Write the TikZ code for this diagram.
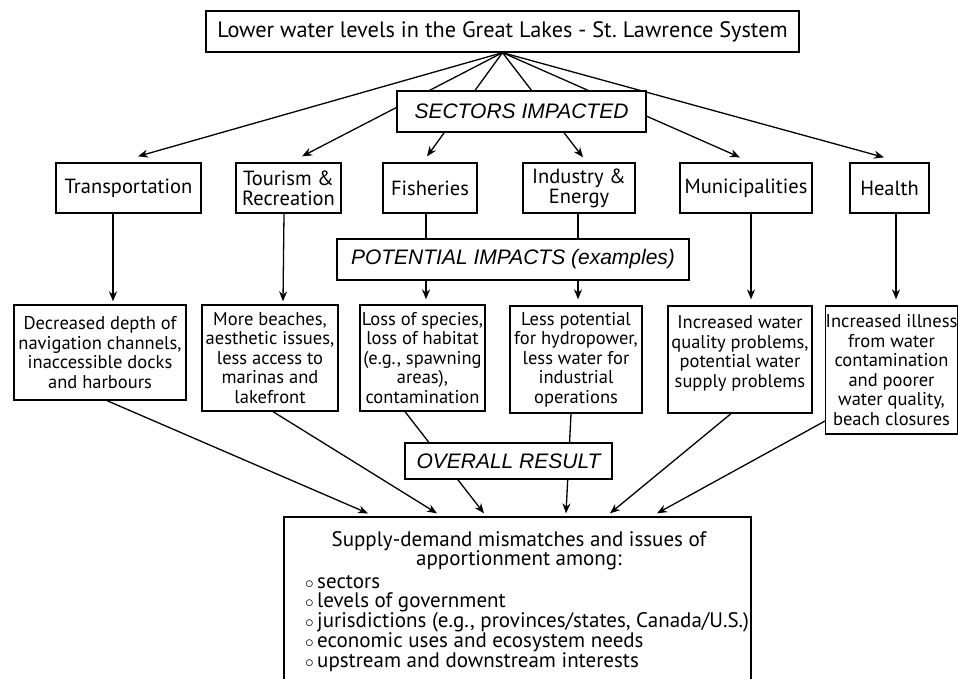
\documentclass[tikz,border=0pt]{standalone}
\usepackage{fontspec}
\setmainfont{PT Sans}
\newfontfamily\labfamily{Liberation Sans}
\usetikzlibrary{arrows.meta,calc}
\frenchspacing
\newcommand\titlesz{\fontsize{22.3}{24}\selectfont}
\newcommand\secsz{\fontsize{20.5}{20}\selectfont}
\newcommand\impsz{\fontsize{18.5}{19.5}\selectfont}
\newcommand\ressz{\fontsize{21}{19.7}\selectfont}
\newcommand\labsz{\labfamily\fontsize{21}{22}\selectfont\itshape}
\newcommand\bul{\makebox[12pt][l]{\fontsize{16}{16}\selectfont$\circ$}}
\begin{document}
\begin{tikzpicture}[x=1pt,y=-1pt,
  box/.style={draw,line width=1.3pt,inner sep=0pt,align=center,fill=white},
  lab/.style={draw,line width=1.3pt,inner sep=0pt,align=center,font=\labsz,fill=white},
  arr/.style={line width=1.3pt,-{Stealth[length=10pt,width=8pt]}},
  txt/.style={inner sep=0pt,font=\ressz}]
\clip (0,0) rectangle (958,679);
\fill[white] (0,0) rectangle (958,679);

% top
\node[box,font=\titlesz,minimum width=593,minimum height=41] (title) at (502.5,31.5) {Lower water levels in the Great Lakes - St. Lawrence System};

% sectors
\tikzset{sec/.style={box,font=\secsz,minimum height=50}}
\node[sec,minimum width=145] (trans) at (128.5,188) {Transportation};
\node[sec,minimum width=105] (tour) at (288.5,188) {Tourism \&\\Recreation};
\node[sec,minimum width=94] (fish) at (430,188) {Fisheries};
\node[sec,minimum width=112] (ind) at (579,188) {Industry \&\\Energy};
\node[sec,minimum width=132] (muni) at (746,188) {Municipalities};
\node[sec,minimum width=79] (health) at (889.5,188) {Health};

% impacts
\tikzset{imp/.style={box,font=\impsz}}
\node[imp,minimum width=172,minimum height=95] (dec) at (100,352.5) {Decreased depth of\\navigation channels,\\inaccessible docks\\and harbours};
\node[imp,minimum width=136,minimum height=106] (more) at (270,358) {More beaches,\\aesthetic issues,\\less access to\\marinas and\\lakefront};
\node[imp,minimum width=125,minimum height=106] (loss) at (422.5,358) {Loss of species,\\loss of habitat\\(e.g., spawning\\areas),\\contamination};
\node[imp,minimum width=132,minimum height=107] (less) at (576,359.5) {Less potential\\for hydropower,\\less water for\\industrial\\operations};
\node[imp,minimum width=144,minimum height=107] (water) at (740,359.5) {Increased water\\quality problems,\\potential water\\supply problems\rule[-16pt]{0pt}{16pt}};
\node[imp,minimum width=129,minimum height=128] (ill) at (891.5,370) {Increased illness\\from water\\contamination\\and poorer\\water quality,\\beach closures};

% result
\node[box,minimum width=467,minimum height=183] (res) at (517.5,608.5) {};
\node[txt,align=center,anchor=north] (reshead) at (519,531) {Supply-demand mismatches and issues of\\apportionment among:};
\node[txt,align=left,anchor=north west] (reslist) at (305,575) {\bul sectors\\\bul levels of government\\\bul jurisdictions (e.g., provinces/states, Canada/U.S.)\\\bul economic uses and ecosystem needs\\\bul upstream and downstream interests};

% fan from title
\draw[arr] (title.south) -- ([xshift=9.5pt,yshift=6pt]trans.north);
\draw[arr] (title.south) -- ([xshift=13.5pt,yshift=6pt]tour.north);
\draw[arr] (title.south) -- ([xshift=-3pt,yshift=6pt]fish.north);
\draw[arr] (title.south) -- ([xshift=4pt,yshift=5pt]ind.north);
\draw[arr] (title.south) -- ([xshift=-6pt,yshift=5pt]muni.north);
\draw[arr] (title.south) -- ([xshift=-5.5pt,yshift=5pt]health.north);
\node[lab,minimum width=249,minimum height=41] (sect) at (521.5,111.5) {SECTORS IMPACTED};

% sectors to impacts
\draw[arr] ([xshift=-15.5pt]trans.south) -- ([xshift=13pt,yshift=3pt]dec.north);
\draw[arr] ([xshift=-4.5pt]tour.south) -- ([xshift=13pt,yshift=3pt]more.north);
\draw[arr] ([xshift=-4pt]fish.south) -- ([xshift=3.5pt,yshift=5pt]loss.north);
\draw[arr] ([xshift=-1pt]ind.south) -- ([xshift=2pt,yshift=6pt]less.north);
\draw[arr] ([xshift=5pt]muni.south) -- ([xshift=11pt,yshift=6pt]water.north);
\draw[arr] ([xshift=6.5pt]health.south) -- ([xshift=4.5pt,yshift=6pt]ill.north);
\node[lab,minimum width=352,minimum height=41] (pot) at (513,259.5) {POTENTIAL IMPACTS (examples)};

% impacts to result
\draw[arr] ([xshift=7pt]dec.south) -- ([xshift=-149.5pt,yshift=3pt]res.north);
\draw[arr] ([xshift=3pt]more.south) -- ([xshift=-80.5pt,yshift=3pt]res.north);
\draw[arr] ([xshift=-17.5pt]loss.south) -- ([xshift=-33.5pt,yshift=3pt]res.north);
\draw[arr] ([xshift=-5pt]less.south) -- ([xshift=48.5pt,yshift=3pt]res.north);
\draw[arr] ([xshift=-9pt]water.south) -- ([xshift=92.5pt,yshift=3pt]res.north);
\draw[arr] ([yshift=-51pt]ill.west) -- ([xshift=139.5pt,yshift=3pt]res.north);
\node[lab,minimum width=207,minimum height=36] (overall) at (508.5,461) {OVERALL RESULT};
\end{tikzpicture}
\end{document}
